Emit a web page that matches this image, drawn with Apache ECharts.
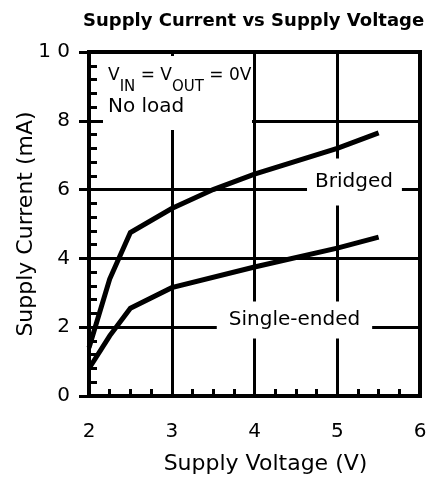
<!DOCTYPE html>
<html>
<head>
<meta charset="utf-8">
<script src="https://cdn.jsdelivr.net/npm/echarts@6/dist/echarts.min.js"></script>
<style>
  html, body { margin: 0; padding: 0; background: #fff; }
  #chart { width: 428px; height: 479px; }
</style>
</head>
<body>
<div id="chart"></div>
<script>
// Supply current (mA) against supply voltage (V), no load, VIN = VOUT = 0 V
const bridgedVoltage = [2.0, 2.25, 2.5, 3.0, 3.5, 4.0, 5.0, 5.5];
const bridgedCurrent = [1.4, 3.4, 4.75, 5.45, 6.0, 6.45, 7.2, 7.65];
const singleVoltage = [2.0, 2.25, 2.5, 3.0, 4.0, 5.0, 5.5];
const singleCurrent = [0.8, 1.75, 2.55, 3.15, 3.75, 4.3, 4.62];
const seriesNames = ['Bridged', 'Single-ended'];
const xTickLabels = ['2', '3', '4', '5', '6'];
const yTickLabels = ['0', '2', '4', '6', '8', '1 0'];

const FONT = 'DejaVu Sans';
const INK = '#000';

const X_MIN = 2, X_MAX = 6, X_STEP = 1;
const Y_MIN = 0, Y_MAX = 10, Y_STEP = 2;

function pairs(xs, ys) {
  return xs.map((x, i) => [x, ys[i]]);
}

// Where each curve's name is centred (data units)
const bridgedTagAt = [5.208, 6.22];
const singleTagAt = [4.483, 2.21];

function curve(name, xs, ys, tagAt, tagPadding) {
  return {
    name: name,
    type: 'line',
    xAxisIndex: 0,
    yAxisIndex: 0,
    z: 3,
    data: pairs(xs, ys),
    symbol: 'none',
    smooth: false,
    animation: false,
    lineStyle: { color: INK, width: 5, join: 'miter', cap: 'butt' },
    markPoint: {
      // sits above the grid lines but under the curves
      z: 1,
      symbol: 'rect',
      symbolSize: 1,
      itemStyle: { color: 'rgba(0,0,0,0)' },
      animation: false,
      data: [{ coord: tagAt }],
      label: {
        show: true,
        position: 'inside',
        formatter: name,
        color: INK,
        fontFamily: FONT,
        fontSize: 20,
        backgroundColor: '#fff',
        padding: tagPadding
      }
    }
  };
}

const chart = echarts.init(document.getElementById('chart'), null, { renderer: 'canvas' });

chart.setOption({
  backgroundColor: '#fff',
  animation: false,
  title: {
    text: 'Supply Current vs Supply Voltage',
    left: 83,
    top: 12,
    padding: 0,
    textStyle: { fontFamily: FONT, fontSize: 18, fontWeight: 'bold', color: INK }
  },
  grid: {
    left: 89, right: 8, top: 52, bottom: 83,
    outerBoundsMode: 'none',
    containLabel: false,
    show: true, borderColor: INK, borderWidth: 4, backgroundColor: '#fff'
  },
  xAxis: {
    type: 'value',
    min: X_MIN, max: X_MAX, interval: X_STEP,
    name: 'Supply Voltage (V)',
    nameLocation: 'middle',
    nameGap: 57,
    nameTextStyle: { fontFamily: FONT, fontSize: 22, color: INK, padding: [0, 0, 0, 22] },
    axisLine: { show: true, lineStyle: { color: INK, width: 4 } },
    axisTick: { show: false, inside: true },
    minorTick: { show: true, splitNumber: 4, length: 7, lineStyle: { color: INK, width: 3 } },
    splitLine: { show: true, lineStyle: { color: INK, width: 3 } },
    axisLabel: {
      margin: 26, fontFamily: FONT, fontSize: 20, color: INK,
      formatter: v => xTickLabels[Math.round((v - X_MIN) / X_STEP)]
    }
  },
  yAxis: [
    {
      type: 'value',
      position: 'left',
      min: Y_MIN, max: Y_MAX, interval: Y_STEP,
      name: 'Supply Current (mA)',
      nameLocation: 'middle',
      nameGap: 52,
      nameMoveOverlap: false,
      nameTextStyle: { fontFamily: FONT, fontSize: 22, color: INK },
      axisLine: { show: true, lineStyle: { color: INK, width: 4 } },
      axisTick: { show: true, length: 10, lineStyle: { color: INK, width: 3 } },
      splitLine: { show: true, lineStyle: { color: INK, width: 3 } },
      axisLabel: {
        margin: 19, fontFamily: FONT, fontSize: 20, color: INK,
        formatter: v => yTickLabels[Math.round((v - Y_MIN) / Y_STEP)]
      }
    },
    {
      // carries only the short inward minor ticks along the left edge
      type: 'value',
      position: 'left',
      min: Y_MIN, max: Y_MAX, interval: Y_STEP,
      axisLine: { show: false },
      axisTick: { show: false, inside: true },
      minorTick: { show: true, splitNumber: 5, length: 8, lineStyle: { color: INK, width: 3 } },
      splitLine: { show: false },
      axisLabel: { show: false }
    }
  ],
  series: [
    curve(seriesNames[0], bridgedVoltage, bridgedCurrent, bridgedTagAt, [19, 9, 8, 8]),
    curve(seriesNames[1], singleVoltage, singleCurrent, singleTagAt, [10, 12, 7, 12])
  ],
  graphic: [
    {
      type: 'group',
      left: 103,
      top: 56,
      z: 10,
      children: [
        {
          type: 'rect',
          shape: { x: 0, y: 0, width: 149, height: 74 },
          style: { fill: '#fff' },
          z: 10
        },
        {
          type: 'text',
          x: 5,
          y: 11,
          z: 11,
          style: {
            text: '{m|V}{s|IN}{m| = V}{s|OUT}{m| = 0V}',
            rich: {
              m: { fontFamily: FONT, fontSize: 17, fill: INK, verticalAlign: 'top' },
              s: { fontFamily: FONT, fontSize: 15, fill: INK, verticalAlign: 'top', padding: [13, 0, 0, 0] }
            },
            fill: INK
          }
        },
        {
          type: 'text',
          x: 5,
          y: 41,
          z: 11,
          style: { text: 'No load', fontFamily: FONT, fontSize: 20, fill: INK }
        }
      ]
    }
  ]
});
</script>
</body>
</html>
